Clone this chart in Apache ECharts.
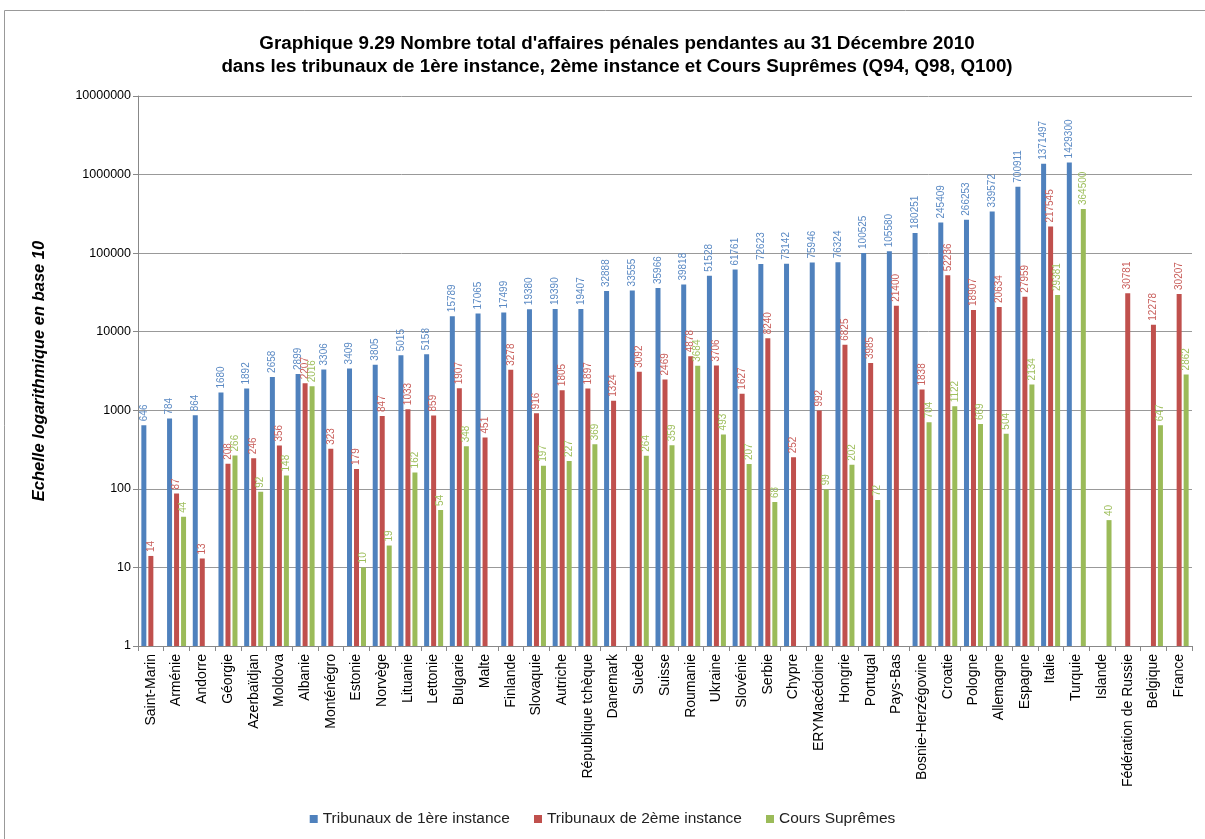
<!DOCTYPE html>
<html><head><meta charset="utf-8">
<script src="https://cdn.jsdelivr.net/npm/echarts@6/dist/echarts.min.js"></script>
<style>html,body{margin:0;padding:0;background:#fff}#c{width:1205px;height:839px}</style>
</head><body><div id="c"></div>
<script>
const categories = ["Saint-Marin","Arménie","Andorre","Géorgie","Azerbaïdjan","Moldova","Albanie","Monténégro","Estonie","Norvège","Lituanie","Lettonie","Bulgarie","Malte","Finlande","Slovaquie","Autriche","République tchèque","Danemark","Suède","Suisse","Roumanie","Ukraine","Slovénie","Serbie","Chypre","ERYMacédoine","Hongrie","Portugal","Pays-Bas","Bosnie-Herzégovine","Croatie","Pologne","Allemagne","Espagne","Italie","Turquie","Islande","Fédération de Russie","Belgique","France"];
const premiere = [646,784,864,1680,1892,2658,2899,3306,3409,3805,5015,5158,15789,17065,17499,19380,19390,19407,32888,33555,35966,39818,51528,61761,72623,73142,75946,76324,100525,105580,180251,245409,266253,339572,700911,1371497,1429300,null,null,null,null];
const deuxieme = [14,87,13,208,246,356,2207,323,179,847,1033,859,1907,451,3278,916,1805,1897,1324,3092,2469,4878,3706,1627,8240,252,992,6825,3985,21400,1838,52236,18907,20634,27959,217545,null,null,30781,12278,30207];
const supremes = [null,44,null,266,92,148,2016,null,10,19,162,54,348,null,null,197,227,369,null,264,359,3684,493,207,68,null,99,202,72,null,704,1122,669,504,2134,29381,364500,40,null,647,2862];
const seriesNames = ["Tribunaux de 1ère instance","Tribunaux de 2ème instance","Cours Suprêmes"];
const yTicks = [1,10,100,1000,10000,100000,1000000,10000000];

const FONT = '"Liberation Sans",Arial,sans-serif';
const colors = ['#4F81BD','#C0504D','#9BBB59'];
const labelColors = ['#5B8AC4','#C9605D','#9FBF5E'];
function mk(i, data){
  return {
    name: seriesNames[i], type:'bar', data: data, barWidth:5, barGap:'40%',
    itemStyle:{color:colors[i]},
    label:{show:true, position:'top', rotate:90, align:'left', verticalAlign:'middle', distance:4,
      fontSize:10, fontFamily:FONT, color:labelColors[i]}
  };
}
const chart = echarts.init(document.getElementById('c'), null, {renderer:'canvas'});
chart.setOption({
  animation:false,
  color:colors,
  title:{
    text:"Graphique 9.29 Nombre total d'affaires pénales pendantes au 31 Décembre 2010\ndans les tribunaux de 1ère instance, 2ème instance et Cours Suprêmes (Q94, Q98, Q100)",
    left:612, top:27, textAlign:'center',
    textStyle:{fontFamily:FONT, fontSize:18.8, fontWeight:'bold', color:'#000', lineHeight:23}
  },
  legend:{
    bottom:7, left:'center', icon:'rect', itemWidth:8, itemHeight:8, itemGap:24,
    textStyle:{fontFamily:FONT, fontSize:15.5, color:'#222'},
    data:seriesNames
  },
  grid:{left:138, right:13, top:96, bottom:193},
  xAxis:{
    type:'category', data:categories,
    axisLine:{lineStyle:{color:'#888'}},
    axisTick:{show:true, length:5, lineStyle:{color:'#888'}},
    axisLabel:{rotate:90, interval:0, fontFamily:FONT, fontSize:14, color:'#000', margin:8}
  },
  yAxis:{
    type:'log', logBase:10, min:1, max:10000000,
    name:'Echelle logarithmique en base 10', nameLocation:'middle', nameGap:90, nameRotate:90,
    nameTextStyle:{fontFamily:FONT, fontSize:16.5, fontStyle:'italic', fontWeight:'bold', color:'#000'},
    axisLine:{show:true, lineStyle:{color:'#888'}},
    axisTick:{show:true, length:5, lineStyle:{color:'#888'}},
    axisLabel:{fontFamily:FONT, fontSize:12.5, color:'#000', margin:7, formatter:function(v){return String(Math.round(v));}},
    splitLine:{lineStyle:{color:'#999', width:1}}
  },
  graphic:[{type:'rect', shape:{x:4.5,y:10.5,width:1210,height:840}, style:{fill:null, stroke:'#999', lineWidth:1}, silent:true, z:-1}],
  series:[mk(0,premiere), mk(1,deuxieme), mk(2,supremes)]
});
</script></body></html>
